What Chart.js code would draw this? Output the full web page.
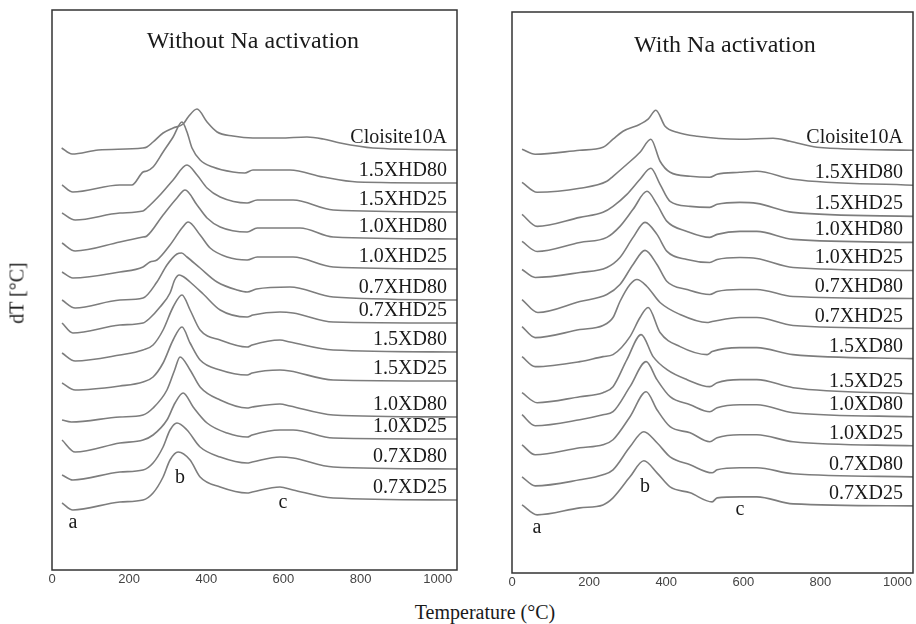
<!DOCTYPE html>
<html>
<head>
<meta charset="utf-8">
<script src="https://cdn.jsdelivr.net/npm/chart.js@4.4.1/dist/chart.umd.min.js"></script>
<style>
  body { margin: 0; background: #fff; }
  #wrap { position: relative; width: 916px; height: 624px; font-family: "Liberation Serif", serif; color: #1a1a1a; }
  canvas { position: absolute; top: 0; }
  #ytitle { position: absolute; left: 17px; top: 293px; transform: translate(-50%, -50%) rotate(-90deg); font-size: 20px; white-space: nowrap; }
  #xtitle { position: absolute; left: 485px; top: 612px; transform: translate(-50%, -50%); font-size: 20px; white-space: nowrap; }
</style>
</head>
<body>
<div id="wrap">
  <canvas id="noNa" width="470" height="600" style="left:0"></canvas>
  <canvas id="withNa" width="446" height="600" style="left:470px"></canvas>
  <div id="ytitle">dT [°C]</div>
  <div id="xtitle">Temperature (°C)</div>
</div>
<script>
// sample names, top to bottom
const sampleLabels = ['Cloisite10A', '1.5XHD80', '1.5XHD25', '1.0XHD80', '1.0XHD25', '0.7XHD80', '0.7XHD25',
  '1.5XD80', '1.5XD25', '1.0XD80', '1.0XD25', '0.7XD80', '0.7XD25'];

const xTicks = [0, 200, 400, 600, 800, 1000];

// curves: [temperature °C, stacked dT (a.u.)]
const noNaCurves = [
  [[25,422],[52,416],[120,420],[235,422],[246,423],[262,428],[288,437],[314,442],[340,446],[353,453],[376,461],[402,448],[428,438],[469,434],[521,432],[591,432],[661,433],[703,431],[747,427],[832,422],[1050,420]],
  [[26,385],[54,378],[176,385],[207,385],[236,398],[246,399],[262,403],[288,418],[314,433],[337,448],[350,438],[363,422],[384,410],[417,403],[469,398],[500,397],[521,400],[617,400],[703,393],[791,388],[1050,387]],
  [[26,357],[60,350],[176,357],[236,359],[246,362],[280,375],[314,390],[350,405],[376,395],[402,382],[436,373],[506,367],[532,370],[625,370],[729,360],[1050,358]],
  [[26,327],[60,319],[176,328],[236,333],[246,334],[288,355],[324,372],[345,380],[376,365],[402,352],[436,343],[506,338],[532,342],[643,342],[729,333],[1050,331]],
  [[26,298],[54,292],[176,298],[236,303],[254,308],[272,310],[306,325],[337,342],[353,348],[384,335],[410,322],[454,313],[506,310],[532,313],[625,313],[729,303],[1050,301]],
  [[26,270],[60,262],[176,270],[236,272],[272,288],[298,305],[324,316],[336,317],[350,313],[384,302],[428,288],[480,280],[506,278],[530,281],[617,283],[729,273],[1050,270]],
  [[26,247],[54,237],[176,245],[236,247],[254,252],[280,263],[306,277],[318,290],[330,295],[342,293],[358,288],[392,276],[436,260],[506,253],[521,255],[591,258],[625,257],[729,248],[1050,247]],
  [[26,217],[60,209],[176,215],[236,220],[262,225],[288,240],[314,263],[337,275],[358,260],[384,240],[436,230],[506,223],[519,225],[591,230],[617,228],[729,220],[1050,218]],
  [[26,187],[60,180],[176,184],[236,188],[262,193],[288,207],[314,230],[337,243],[358,227],[384,210],[436,200],[506,195],[519,197],[591,200],[617,199],[729,190],[1050,189]],
  [[26,150],[50,148],[176,153],[236,155],[262,162],[298,180],[318,200],[332,213],[358,200],[384,183],[436,170],[506,162],[519,163],[591,166],[617,164],[729,155],[1050,153]],
  [[26,130],[60,118],[176,127],[236,130],[262,135],[298,150],[319,167],[340,177],[366,163],[402,147],[454,137],[506,133],[519,135],[591,140],[625,140],[729,132],[1050,131]],
  [[26,95],[54,90],[176,98],[236,100],[262,107],[288,123],[306,140],[324,147],[350,140],[384,123],[436,113],[506,107],[519,108],[591,113],[625,112],[729,103],[1050,101]],
  [[26,67],[54,60],[176,68],[236,70],[262,77],[288,93],[306,110],[327,118],[358,110],[384,93],[436,83],[506,77],[519,78],[591,83],[625,80],[729,72],[1050,70]]
];

const withNaCurves = [
  [[26,423],[60,418],[176,422],[236,425],[262,433],[288,441],[332,448],[353,453],[373,462],[397,446],[428,440],[480,436],[591,433],[677,434],[721,431],[791,425],[1040,422]],
  [[26,390],[65,380],[176,384],[246,391],[262,396],[298,408],[332,420],[360,433],[384,411],[410,400],[462,396],[513,395],[532,398],[591,400],[635,401],[729,393],[1040,387]],
  [[26,358],[65,346],[176,355],[236,360],[262,366],[298,378],[332,393],[360,404],[384,388],[410,371],[462,366],[513,365],[532,368],[591,370],[635,369],[729,360],[1040,356]],
  [[26,331],[65,321],[176,330],[246,335],[280,346],[314,363],[350,381],[376,368],[402,351],[454,341],[513,335],[532,338],[591,341],[635,341],[729,333],[1040,330]],
  [[26,303],[60,295],[176,300],[246,305],[280,315],[314,335],[345,350],[376,338],[402,321],[454,313],[513,310],[532,313],[591,315],[635,314],[729,305],[1040,302]],
  [[26,273],[67,260],[176,271],[246,278],[280,288],[314,308],[345,322],[376,308],[402,291],[454,283],[513,278],[532,281],[591,283],[635,283],[729,276],[1040,274]],
  [[26,246],[60,235],[176,243],[236,247],[262,255],[280,271],[306,288],[324,293],[350,286],[384,270],[436,258],[506,250],[519,251],[591,255],[635,255],[729,247],[1040,244]],
  [[26,216],[60,206],[176,211],[236,216],[262,218],[306,236],[332,255],[353,265],[384,240],[436,226],[506,218],[519,221],[591,225],[635,225],[729,218],[1040,214]],
  [[26,180],[65,170],[176,176],[236,180],[262,186],[298,213],[335,238],[366,216],[402,203],[454,193],[513,186],[532,190],[591,193],[635,193],[729,185],[1040,179]],
  [[26,158],[60,147],[176,153],[236,158],[262,161],[306,186],[348,211],[376,193],[410,176],[462,168],[513,161],[532,165],[591,168],[635,168],[729,160],[1040,156]],
  [[26,128],[60,118],[176,125],[236,128],[262,133],[306,156],[348,181],[376,163],[410,146],[462,140],[513,131],[532,135],[591,138],[635,138],[729,131],[1040,127]],
  [[26,96],[60,87],[176,93],[236,98],[262,103],[306,126],[342,141],[376,130],[410,116],[462,108],[519,100],[532,103],[591,105],[635,105],[729,99],[1040,96]],
  [[26,68],[65,58],[176,65],[236,68],[262,75],[306,96],[342,112],[376,100],[410,86],[462,80],[519,71],[532,75],[591,76],[635,76],[729,69],[1040,67]]
];

// region letters: [text, temperature, dT]
const noNaMarks = [['a', 54, 47], ['b', 332, 92], ['c', 599, 67]];
const withNaMarks = [['a', 65, 45], ['b', 345, 86], ['c', 591, 63]];

// frame, panel title, curve names and region letters
const panelText = {
    id: 'panelText',
    afterDatasetsDraw(chart, args, opts) {
        const { ctx, chartArea: a, scales: { x, y } } = chart;
        ctx.save();
        ctx.strokeStyle = '#333';
        ctx.lineWidth = 1.5;
        ctx.strokeRect(a.left, a.top, a.width, a.height);

        ctx.fillStyle = '#1a1a1a';
        ctx.font = '24px "Liberation Serif"';
        ctx.textAlign = 'center';
        ctx.textBaseline = 'alphabetic';
        ctx.fillText(opts.title, x.getPixelForValue(opts.titleAt[0]), y.getPixelForValue(opts.titleAt[1]));

        ctx.font = '20px "Liberation Serif"';
        ctx.textAlign = 'right';
        chart.data.datasets.forEach(ds => {
            const last = ds.data[ds.data.length - 1];
            ctx.fillText(ds.label, x.getPixelForValue(opts.labelT), y.getPixelForValue(last.y) - 7);
        });

        ctx.textAlign = 'center';
        ctx.textBaseline = 'middle';
        opts.marks.forEach(m => ctx.fillText(m[0], x.getPixelForValue(m[1]), y.getPixelForValue(m[2])));
        ctx.restore();
    }
};

function makePanel(id, curves, marks, title, titleAt, labelT, xMax, padding) {
    const ctx = document.getElementById(id).getContext('2d');
    new Chart(ctx, {
        type: 'line',
        data: {
            datasets: curves.map((c, i) => ({
                label: sampleLabels[i],
                data: c.map(p => ({ x: p[0], y: p[1] })),
                borderColor: '#7d7d7d',
                borderWidth: 1.6,
                pointRadius: 0,
                cubicInterpolationMode: 'monotone',
                fill: false
            }))
        },
        options: {
            responsive: false,
            animation: false,
            layout: { padding: padding },
            plugins: {
                legend: { display: false },
                tooltip: { enabled: false },
                panelText: { title: title, titleAt: titleAt, labelT: labelT, marks: marks }
            },
            scales: {
                x: {
                    type: 'linear',
                    min: 0,
                    max: xMax,
                    grid: { display: false, drawTicks: false },
                    border: { display: false },
                    afterBuildTicks: s => { s.ticks = xTicks.map(v => ({ value: v })); },
                    afterFit: s => { s.height = 22; },
                    ticks: {
                        padding: 2,
                        color: '#444',
                        font: { family: 'Liberation Sans', size: 13 },
                        callback: v => String(v)
                    }
                },
                y: { display: false, min: 0, max: 560 }
            }
        },
        plugins: [panelText]
    });
}

makePanel('noNa', noNaCurves, noNaMarks, 'Without Na activation', [521, 522], 1024, 1050,
    { left: 52, right: 13, top: 10, bottom: 8 });
makePanel('withNa', withNaCurves, withNaMarks, 'With Na activation', [552, 520], 1014, 1040,
    { left: 42, right: 3, top: 12, bottom: 5 });
</script>
</body>
</html>
